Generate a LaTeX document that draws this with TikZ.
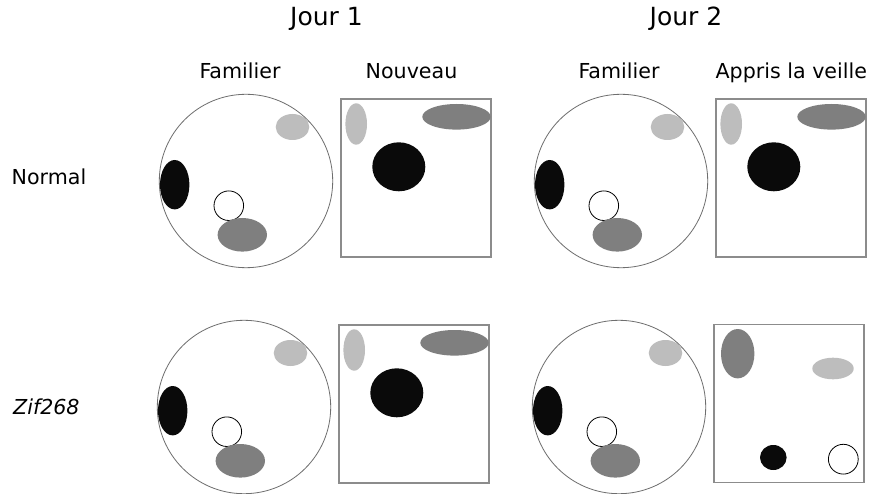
\documentclass[tikz,border=0pt]{standalone}
\usepackage{fontspec}
\setmainfont{DejaVu Sans}
\definecolor{lgr}{HTML}{BDBDBD}
\definecolor{dgr}{HTML}{7F7F7F}
\definecolor{blk}{HTML}{0A0A0A}
\definecolor{rim}{HTML}{6E6E6E}
\definecolor{frm}{HTML}{8C8C8C}
\tikzset{
  lbl/.style={inner sep=0pt, anchor=base, font=\fontsize{20.6}{24}\selectfont},
  day/.style={inner sep=0pt, anchor=base, font=\fontsize{25}{28}\selectfont},
  arena/.style={draw=rim, line width=0.8pt},
  box/.style={draw=frm, line width=1.1pt},
  open/.style={draw=black, line width=0.8pt, fill=white}
}
\newcommand{\familierarena}{%
  \draw[arena] (246,181) circle[radius=86.7pt];
  \fill[lgr] (292.5,127) ellipse[x radius=16.8pt, y radius=13pt];
  \fill[blk] (174.7,184.7) ellipse[x radius=14.7pt, y radius=24.7pt];
  \draw[open] (228.8,205.7) circle[radius=14.8pt];
  \fill[dgr] (242.3,234.8) ellipse[x radius=24.7pt, y radius=16.8pt];
}
\newcommand{\nouveaubox}{%
  \draw[box] (341,99) rectangle (491,257);
  \fill[lgr] (356.2,124) ellipse[x radius=10.8pt, y radius=20.7pt];
  \fill[dgr] (456.5,116.8) ellipse[x radius=34.2pt, y radius=12.8pt];
  \fill[blk] (398.8,166.8) ellipse[x radius=26.5pt, y radius=24.5pt];
}
\begin{document}
\begin{tikzpicture}[x=1pt,y=-1pt]
\useasboundingbox[fill=white] (0,0) rectangle (869,494);
% headers
\node[day] (j1) at (326.5,26) {Jour 1};
\node[day] (j2) at (686,26) {Jour 2};
\node[lbl] (f1) at (240,78.3) {Familier};
\node[lbl] (n1) at (411.5,78.3) {Nouveau};
\node[lbl] (f2) at (619,78.3) {Familier};
\node[lbl] (a2) at (791.3,78.3) {Appris la veille};
\node[lbl, anchor=base west] (rn) at (11.5,185) {Normal};
\node[lbl, anchor=base west] (rz) at (13,414) {\itshape Zif268};
% row 1
\begin{scope}\familierarena\nouveaubox\end{scope}
\begin{scope}[shift={(375,0)}]\familierarena\nouveaubox\end{scope}
% row 2
\begin{scope}[shift={(-2,226)}]\familierarena\nouveaubox\end{scope}
\begin{scope}[shift={(373,226)}]\familierarena
  \draw[box] (341,98.5) rectangle (491,256.5);
  \fill[dgr] (364.7,127.7) ellipse[x radius=16.7pt, y radius=24.7pt];
  \fill[lgr] (460,142.5) ellipse[x radius=20.7pt, y radius=10.8pt];
  \fill[blk] (400.3,231.5) ellipse[x radius=13.3pt, y radius=12.5pt];
  \draw[open] (470.3,233.2) circle[radius=14.9pt];
\end{scope}
\end{tikzpicture}
\end{document}
